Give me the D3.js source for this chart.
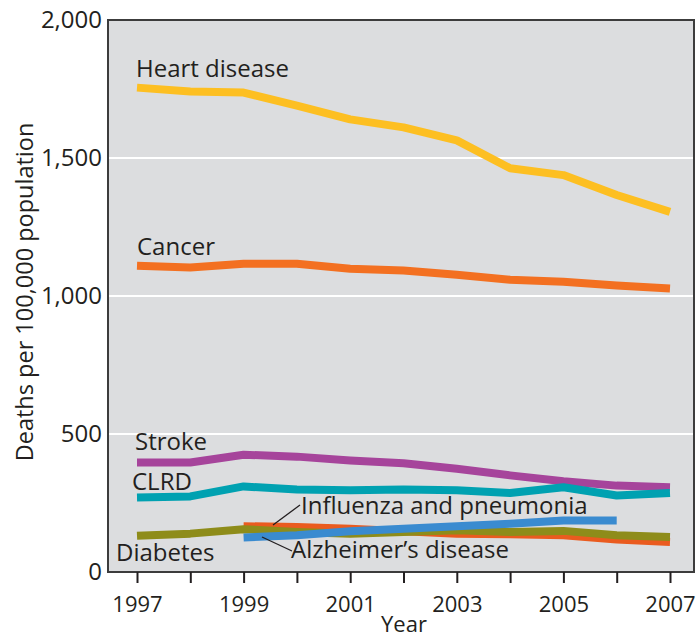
<!DOCTYPE html>
<html>
<head>
<meta charset="utf-8">
<script src="https://cdn.jsdelivr.net/npm/d3@7"></script>
<style>
  body { margin: 0; background: #fff; }
  text { font-family: "Open Sans", "DejaVu Sans", sans-serif; fill: #231f20; }
</style>
</head>
<body>
<script>
var width = 698;
var height = 640;
var margin = {top: 20, left: 108, right: 4, bottom: 68};

var years = [1997, 1998, 1999, 2000, 2001, 2002, 2003, 2004, 2005, 2006, 2007];
var yearTicks = [1997, 1999, 2001, 2003, 2005, 2007];
var valueTicks = [0, 500, 1000, 1500, 2000];

var heart = [1755, 1741, 1737, 1690, 1640, 1611, 1564, 1463, 1438, 1366, 1305];
var cancer = [1110, 1103, 1117, 1117, 1099, 1092, 1077, 1059, 1052, 1038, 1027];
var stroke = [397, 397, 425, 418, 404, 394, 374, 350, 329, 313, 307];
var clrd = [270, 274, 310, 299, 296, 299, 296, 286, 307, 277, 286];
var diabetes = [131, 139, 155, 145, 139, 145, 151, 145, 149, 133, 127];
var influenza = [null, null, 166, 163, 157, 148, 139, 137, 133, 118, 109];
var alzheimers = [null, null, 125, 133, 148, 157, 166, 175, 187, 187, null];

var series = [
  {name: "Heart disease", values: heart, color: "#fdbf22"},
  {name: "Cancer", values: cancer, color: "#f37021"},
  {name: "Stroke", values: stroke, color: "#a6449b"},
  {name: "CLRD", values: clrd, color: "#00a1b1"},
  {name: "Influenza and pneumonia", values: influenza, color: "#ea5b1f"},
  {name: "Diabetes", values: diabetes, color: "#8e8c1a"},
  {name: "Alzheimer's disease", values: alzheimers, color: "#3a8bd0"}
];

var svg = d3.select("body")
  .append("svg")
  .attr("width", width)
  .attr("height", height);

var xScale = d3.scaleLinear()
  .domain([1997, 2007])
  .range([137, 670]);

var yScale = d3.scaleLinear()
  .domain([0, 2000])
  .range([height - margin.bottom, margin.top]);

// plot background
svg.append("rect")
  .attr("x", margin.left)
  .attr("y", margin.top)
  .attr("width", width - margin.left - margin.right)
  .attr("height", height - margin.top - margin.bottom)
  .attr("fill", "#dcdddf");

// grid lines
svg.selectAll(".grid")
  .data([500, 1000, 1500])
  .enter()
  .append("line")
    .attr("x1", margin.left)
    .attr("x2", width - margin.right)
    .attr("y1", function(d) { return yScale(d); })
    .attr("y2", function(d) { return yScale(d); })
    .attr("stroke", "#fff")
    .attr("stroke-width", 2);

var line = d3.line()
  .defined(function(d) { return d[1] != null; })
  .x(function(d) { return xScale(d[0]); })
  .y(function(d) { return yScale(d[1]); });

svg.selectAll(".series")
  .data(series)
  .enter()
  .append("path")
    .attr("d", function(s) { return line(years.map(function(y, i) { return [y, s.values[i]]; })); })
    .attr("fill", "none")
    .attr("stroke", function(s) { return s.color; })
    .attr("stroke-width", 8)
    .attr("stroke-linejoin", "round");

// frame
svg.append("rect")
  .attr("x", margin.left)
  .attr("y", margin.top)
  .attr("width", width - margin.left - margin.right)
  .attr("height", height - margin.top - margin.bottom)
  .attr("fill", "none")
  .attr("stroke", "#3c3c3c")
  .attr("stroke-width", 2);

// x axis
var xAxis = svg.append("g")
  .attr("transform", `translate(0,${height - margin.bottom})`)
  .call(d3.axisBottom(xScale).tickValues(years).tickSize(11).tickFormat(function(d) {
    return yearTicks.indexOf(d) >= 0 ? d : "";
  }));
xAxis.select(".domain").remove();
xAxis.selectAll(".tick line").attr("stroke", "#231f20").attr("stroke-width", 2);
xAxis.selectAll(".tick text").attr("font-size", 22).attr("dy", null).attr("y", 40);

// y axis
var yAxis = svg.append("g")
  .attr("transform", `translate(${margin.left},0)`)
  .call(d3.axisLeft(yScale).tickValues(valueTicks).tickSize(0).tickPadding(6).tickFormat(d3.format(",")));
yAxis.select(".domain").remove();
yAxis.selectAll(".tick text").attr("font-size", 24);

svg.append("text")
  .attr("x", 404)
  .attr("y", 632)
  .attr("text-anchor", "middle")
  .attr("font-size", 22)
  .text("Year");

svg.append("text")
  .attr("transform", "translate(33,292) rotate(-90)")
  .attr("text-anchor", "middle")
  .attr("font-size", 23.5)
  .text("Deaths per 100,000 population");

// series labels
var labels = [
  {text: "Heart disease", x: 136, y: 77},
  {text: "Cancer", x: 137, y: 255},
  {text: "Stroke", x: 135, y: 450},
  {text: "CLRD", x: 132, y: 490},
  {text: "Influenza and pneumonia", x: 301, y: 514},
  {text: "Alzheimer\u2019s disease", x: 291, y: 558},
  {text: "Diabetes", x: 116, y: 561}
];

svg.selectAll(".label")
  .data(labels)
  .enter()
  .append("text")
    .attr("x", function(d) { return d.x; })
    .attr("y", function(d) { return d.y; })
    .attr("font-size", 24)
    .text(function(d) { return d.text; });

// leader lines
var leaders = [
  [[300, 505], [273, 525]],
  [[262, 537], [292, 551]]
];
svg.selectAll(".leader")
  .data(leaders)
  .enter()
  .append("line")
    .attr("x1", function(d) { return d[0][0]; })
    .attr("y1", function(d) { return d[0][1]; })
    .attr("x2", function(d) { return d[1][0]; })
    .attr("y2", function(d) { return d[1][1]; })
    .attr("stroke", "#231f20")
    .attr("stroke-width", 1.3);
</script>
</body>
</html>
